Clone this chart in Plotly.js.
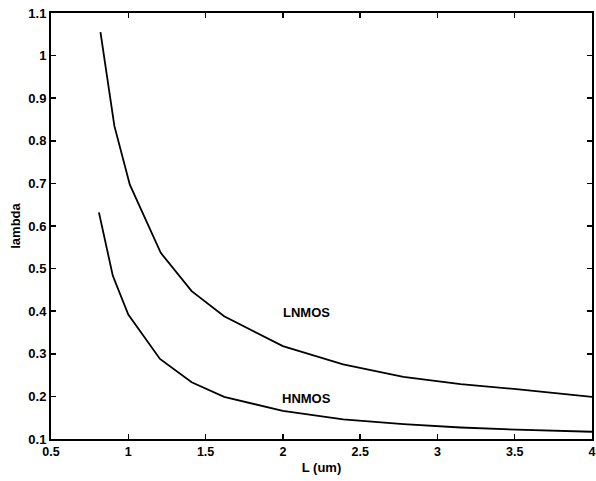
<!DOCTYPE html>
<html>
<head>
<meta charset="utf-8">
<script src="https://cdn.plot.ly/plotly-3.0.1.min.js"></script>
<style>html,body{margin:0;padding:0;background:#fff;}#chart{width:596px;height:481px;}</style>
</head>
<body>
<div id="chart"></div>
<script>
const lnmosX = [0.82, 0.91, 1.01, 1.21, 1.41, 1.62, 2.0, 2.39, 2.78, 3.15, 3.51, 4.0];
const lnmosY = [1.055, 0.835, 0.697, 0.537, 0.447, 0.388, 0.318, 0.275, 0.246, 0.229, 0.217, 0.199];
const hnmosX = [0.81, 0.90, 1.0, 1.205, 1.41, 1.62, 2.0, 2.39, 2.78, 3.15, 3.51, 4.0];
const hnmosY = [0.632, 0.483, 0.392, 0.288, 0.233, 0.199, 0.166, 0.146, 0.135, 0.127, 0.122, 0.117];
const labelNames = ["LNMOS", "HNMOS"];
const labelX = [2.15, 2.15];
const labelY = [0.397, 0.196];
const xTicks = [0.5, 1, 1.5, 2, 2.5, 3, 3.5, 4];
const yTicks = [0.1, 0.2, 0.3, 0.4, 0.5, 0.6, 0.7, 0.8, 0.9, 1, 1.1];

const fnt = {family: "Arial, 'Liberation Sans', Helvetica, sans-serif", size: 13, color: "#000", weight: "bold"};
const fntX = Object.assign({}, fnt, {size: 12.5});
const line = {color: "#000", width: 1.8};

const data = [
  {x: lnmosX, y: lnmosY, mode: "lines", line: line, hoverinfo: "skip"},
  {x: hnmosX, y: hnmosY, mode: "lines", line: line, hoverinfo: "skip"}
];

const axisBase = {
  showgrid: false, zeroline: false, showline: true, linecolor: "#000", linewidth: 2,
  mirror: "allticks", ticks: "inside", ticklen: 5, tickwidth: 1.5, tickcolor: "#000",
  tickfont: fnt
};

const layout = {
  width: 596, height: 481,
  margin: {l: 51, r: 4, t: 13, b: 42},
  paper_bgcolor: "#fff", plot_bgcolor: "#fff",
  showlegend: false,
  xaxis: Object.assign({}, axisBase, {
    range: [0.5, 4], tickvals: xTicks, ticktext: xTicks.map(String), tickfont: fntX,
    title: {text: "L (um)", font: fnt, standoff: 5}
  }),
  yaxis: Object.assign({}, axisBase, {
    range: [0.1, 1.1], tickvals: yTicks, ticktext: yTicks.map(String),
    title: {text: "lambda", font: fnt, standoff: 5}
  }),
  annotations: labelNames.map((t, i) => ({
    x: labelX[i], y: labelY[i], text: t, showarrow: false, font: fnt, xanchor: "center", yanchor: "middle"
  }))
};

Plotly.newPlot("chart", data, layout, {displayModeBar: false, staticPlot: true});
</script>
</body>
</html>
